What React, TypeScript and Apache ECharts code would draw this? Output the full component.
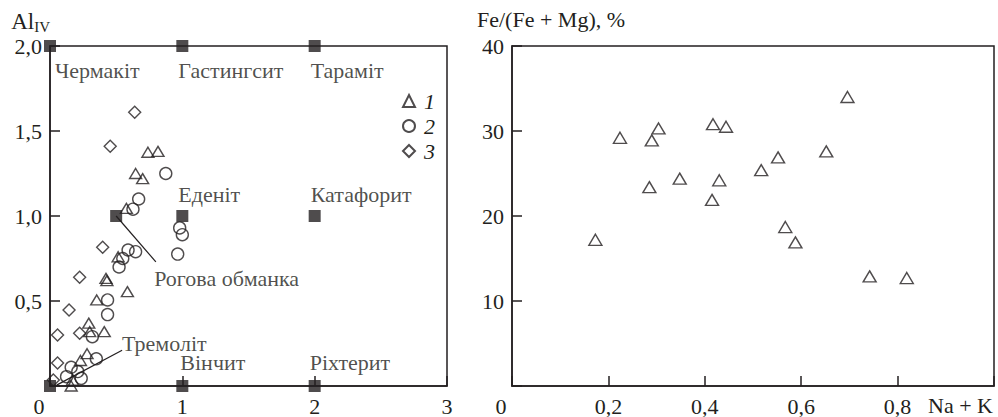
import React, { useEffect, useRef } from "react";
import * as echarts from "echarts";

// ---- Left panel: end-members (filled squares)
const endMemberNames = ["Чермакіт", "Гастингсит", "Тараміт", "Еденіт", "Катафорит", "Рогова обманка", "Тремоліт", "Вінчит", "Ріхтерит"];
const endMemberX = [0, 1, 2, 1, 2, 0.5, 0, 1, 2];
const endMemberY = [2, 2, 2, 1, 1, 1, 0, 0, 0];

// ---- Left panel: sample groups (Na+K vs Al_IV)
const group1X = [0.74, 0.816, 0.647, 0.70, 0.577, 0.515, 0.423, 0.43, 0.585, 0.353, 0.293, 0.30, 0.41, 0.28, 0.23, 0.17, 0.16];
const group1Y = [1.375, 1.38, 1.25, 1.22, 1.045, 0.76, 0.633, 0.62, 0.555, 0.506, 0.37, 0.32, 0.32, 0.19, 0.15, 0.035, 0.0];
const group2X = [0.875, 0.67, 0.627, 0.98, 1.0, 0.965, 0.59, 0.647, 0.55, 0.522, 0.435, 0.435, 0.32, 0.35, 0.16, 0.21, 0.236, 0.125];
const group2Y = [1.25, 1.10, 1.04, 0.93, 0.89, 0.776, 0.80, 0.79, 0.75, 0.70, 0.506, 0.42, 0.29, 0.16, 0.11, 0.085, 0.045, 0.055];
const group3X = [0.64, 0.455, 0.398, 0.224, 0.144, 0.057, 0.224, 0.057, 0.025];
const group3Y = [1.61, 1.41, 0.816, 0.64, 0.447, 0.30, 0.31, 0.135, 0.035];

// ---- Right panel: Na+K vs Fe/(Fe+Mg), %
const rightX = [0.173, 0.224, 0.29, 0.304, 0.285, 0.348, 0.417, 0.444, 0.43, 0.415, 0.517, 0.552, 0.567, 0.588, 0.652, 0.696, 0.742, 0.819];
const rightY = [17.2, 29.2, 28.9, 30.3, 23.4, 24.4, 30.8, 30.5, 24.2, 21.9, 25.4, 26.9, 18.7, 16.9, 27.6, 34.0, 12.9, 12.7];

const legendNames = ["1", "2", "3"];

const FONT = "'Liberation Serif', 'Times New Roman', serif";
const INK = "#231f20";
const FS = 22;

const labelPlacement: Record<string, number[]> = {
  "Чермакіт": [5, 24],
  "Гастингсит": [-4, 24],
  "Тараміт": [-4, 24],
  "Еденіт": [-4, -22],
  "Катафорит": [-4, -22],
  "Рогова обманка": [38, 62],
  "Тремоліт": [72, -43],
  "Вінчит": [-2, -24],
  "Ріхтерит": [-5, -24],
};

const zip = (xs: number[], ys: number[]) => xs.map((x, i) => [x, ys[i]]);

export default function App() {
  const ref = useRef<HTMLDivElement>(null);
  useEffect(() => {
    if (!ref.current) return;
    const chart = echarts.init(ref.current, undefined, { renderer: "svg" });
    const textBase = { fontFamily: FONT, fontSize: FS, color: INK };
    const axisCommon = {
      axisLine: { show: true, onZero: false, lineStyle: { color: INK, width: 1.5 } },
      axisTick: { show: true, inside: true, length: 10, lineStyle: { color: INK, width: 1.5 } },
      splitLine: { show: false },
    };
    const hollow = { color: "rgba(0,0,0,0)", borderColor: INK, borderWidth: 1.4 };
    const zeroRich = { z: { ...textBase, padding: [0, 22, 0, 0] } };

    chart.setOption({
      animation: false,
      backgroundColor: "#fff",
      textStyle: { fontFamily: FONT },
      grid: [
        { left: 50, top: 46, width: 397, height: 340, show: true, borderColor: INK, borderWidth: 1.5, outerBoundsMode: "none", containLabel: false },
        { left: 512, top: 46, width: 482, height: 340, show: true, borderColor: INK, borderWidth: 1.5, outerBoundsMode: "none", containLabel: false },
      ],
      xAxis: [
        {
          gridIndex: 0, type: "value", min: 0, max: 3, interval: 1, ...axisCommon,
          axisLabel: {
            ...textBase, margin: 9,
            formatter: (v: number) => (v === 0 ? "{z|0}" : String(v)),
            rich: zeroRich,
          },
        },
        {
          gridIndex: 1, type: "value", min: 0, max: 1, interval: 0.2, ...axisCommon,
          axisLabel: {
            ...textBase, margin: 9,
            formatter: (v: number) => (v === 0 ? "{z|0}" : v >= 1 ? "" : v.toFixed(1).replace(".", ",")),
            rich: zeroRich,
          },
          name: "Na + K", nameLocation: "end", nameGap: -66,
          nameTextStyle: { ...textBase, align: "left", verticalAlign: "top", lineHeight: 38 },
        },
      ],
      yAxis: [
        {
          gridIndex: 0, type: "value", min: 0, max: 2, interval: 0.5, ...axisCommon,
          axisLabel: {
            ...textBase, margin: 8,
            formatter: (v: number) => (v === 0 ? "" : v.toFixed(1).replace(".", ",")),
          },
          name: "{a|Al}{s|IV}", nameLocation: "end", nameGap: 12,
          nameTextStyle: {
            align: "right", verticalAlign: "bottom",
            rich: {
              a: { ...textBase, fontSize: 23 },
              s: { ...textBase, fontSize: 15, padding: [10, 0, 0, 0] },
            },
          },
        },
        {
          gridIndex: 1, type: "value", min: 0, max: 40, interval: 10, ...axisCommon,
          axisLabel: {
            ...textBase, margin: 8,
            formatter: (v: number) => (v === 0 ? "" : String(v)),
          },
          name: "Fe/(Fe + Mg), %", nameLocation: "end", nameGap: 16,
          nameTextStyle: { ...textBase, align: "center", verticalAlign: "bottom", padding: [0, 0, 0, 78] },
        },
      ],
      legend: {
        orient: "vertical", left: 397, top: 85, itemWidth: 12, itemHeight: 12, itemGap: 3,
        data: legendNames,
        textStyle: { ...textBase, fontStyle: "italic", lineHeight: 22, padding: [0, 0, 0, 4] },
        selectedMode: false,
      },
      series: [
        {
          name: "members", type: "scatter", xAxisIndex: 0, yAxisIndex: 0,
          symbol: "rect", symbolSize: 12, z: 3,
          itemStyle: { color: INK },
          data: endMemberNames.map((n, i) => ({
            name: n,
            value: [endMemberX[i], endMemberY[i]],
            label: {
              show: true, position: "inside", formatter: n, ...textBase,
              align: "left", verticalAlign: "middle", offset: labelPlacement[n],
            },
          })),
          markLine: {
            silent: true, symbol: "none", animation: false,
            label: { show: false },
            lineStyle: { color: INK, width: 1.2, type: "solid" },
            data: [
              [{ coord: [0.5, 1] }, { coord: [0.8, 0.73] }],
              [{ coord: [0.545, 0.21] }, { coord: [0.05, 0.005] }],
            ],
          },
        },
        {
          name: "1", type: "scatter", xAxisIndex: 0, yAxisIndex: 0,
          symbol: "triangle", symbolSize: [12, 10], itemStyle: hollow,
          data: zip(group1X, group1Y),
        },
        {
          name: "2", type: "scatter", xAxisIndex: 0, yAxisIndex: 0,
          symbol: "circle", symbolSize: 12, itemStyle: hollow,
          data: zip(group2X, group2Y),
        },
        {
          name: "3", type: "scatter", xAxisIndex: 0, yAxisIndex: 0,
          symbol: "diamond", symbolSize: 12, itemStyle: hollow,
          data: zip(group3X, group3Y),
        },
        {
          name: "right", type: "scatter", xAxisIndex: 1, yAxisIndex: 1,
          symbol: "triangle", symbolSize: [13, 11], itemStyle: hollow,
          data: zip(rightX, rightY),
        },
      ],
    });
    return () => chart.dispose();
  }, []);
  return (
    <div
      ref={ref}
      style={{ position: "fixed", left: 0, top: 0, width: 998, height: 417, background: "#fff" }}
    />
  );
}
